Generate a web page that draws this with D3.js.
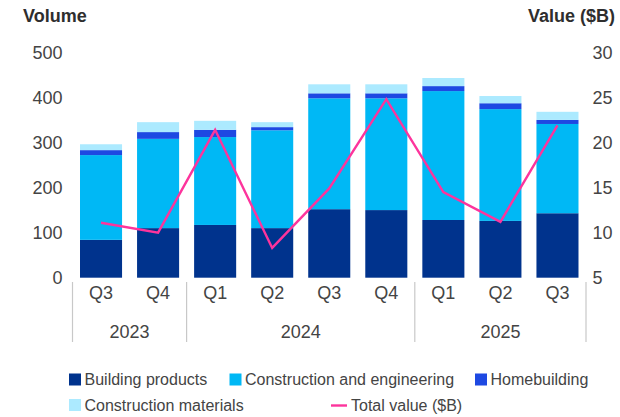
<!DOCTYPE html>
<html>
<head>
<meta charset="utf-8">
<script src="https://cdn.jsdelivr.net/npm/d3@7"></script>
<style>
  html, body { margin: 0; padding: 0; background: #fff; }
  svg { display: block; font-family: "Liberation Sans", Arial, sans-serif; }
</style>
</head>
<body>
<svg id="chart" width="620" height="417"></svg>
<script>
// Quarterly deal volume by sub-sector, with total deal value on the right axis
const quarters = ["Q3", "Q4", "Q1", "Q2", "Q3", "Q4", "Q1", "Q2", "Q3"];
const years = ["2023", "2023", "2024", "2024", "2024", "2024", "2025", "2025", "2025"];
const buildingProducts = [84, 110, 117, 110, 152, 150, 128, 126, 143];
const constructionEngineering = [188, 198, 195, 217, 246, 248, 286, 248, 198];
const homebuilding = [11, 15, 16, 7, 11, 11, 11, 13, 9];
const constructionMaterials = [13, 22, 20, 11, 20, 20, 18, 16, 18];
const totalValue = [11.1, 10.0, 21.4, 8.3, 14.9, 24.8, 14.5, 11.2, 21.9];
const volumeTicks = [0, 100, 200, 300, 400, 500];
const valueTicks = [5, 10, 15, 20, 25, 30];

const seriesNames = ["Building products", "Construction and engineering", "Homebuilding", "Construction materials"];
const seriesColors = ["#00338D", "#00B8F5", "#1E49E2", "#ACEAFF"];
const lineColor = "#FD349C";
const textColor = "#444444";
const axisFont = 18;

const rows = quarters.map((q, i) => ({
  key: i,
  "Building products": buildingProducts[i],
  "Construction and engineering": constructionEngineering[i],
  "Homebuilding": homebuilding[i],
  "Construction materials": constructionMaterials[i]
}));

const svg = d3.select("#chart");

const x = d3.scaleBand()
  .domain(d3.range(quarters.length))
  .range([72.5, 586])
  .paddingInner(0.263)
  .paddingOuter(0.1315);

const yTop = 52.3, yBottom = 277.7;
const yLeft = d3.scaleLinear().domain([0, 500]).range([yBottom, yTop]);
const yRight = d3.scaleLinear().domain([5, 30]).range([yBottom, yTop]);

// Stacked bars
const stack = d3.stack().keys(seriesNames);
const layers = stack(rows);

svg.append("g").selectAll("g")
  .data(layers)
  .join("g")
  .attr("fill", (d, i) => seriesColors[i])
  .selectAll("rect")
  .data(d => d)
  .join("rect")
  .attr("x", d => x(d.data.key))
  .attr("width", x.bandwidth())
  .attr("y", d => yLeft(d[1]))
  .attr("height", d => yLeft(d[0]) - yLeft(d[1]));

// Total value line
const line = d3.line()
  .x((d, i) => x(i) + x.bandwidth() / 2)
  .y(d => yRight(d));

svg.append("path")
  .datum(totalValue)
  .attr("d", line)
  .attr("fill", "none")
  .attr("stroke", lineColor)
  .attr("stroke-width", 2.4)
  .attr("stroke-linejoin", "miter");

// Left axis (volume)
const leftAxis = d3.axisLeft(yLeft).tickValues(volumeTicks).tickSize(0).tickPadding(0);
const gl = svg.append("g").attr("transform", "translate(62.5,0)").call(leftAxis);
gl.select(".domain").remove();
gl.selectAll("text")
  .attr("font-size", axisFont)
  .attr("fill", textColor)
  .attr("font-family", "Liberation Sans, Arial, sans-serif");

// Right axis (value)
const rightAxis = d3.axisRight(yRight).tickValues(valueTicks).tickSize(0).tickPadding(0);
const gr = svg.append("g").attr("transform", "translate(592.5,0)").call(rightAxis);
gr.select(".domain").remove();
gr.selectAll("text")
  .attr("font-size", axisFont)
  .attr("fill", textColor)
  .attr("font-family", "Liberation Sans, Arial, sans-serif");

// Axis titles
svg.append("text")
  .attr("x", 23).attr("y", 21.7)
  .attr("font-size", 18).attr("font-weight", "bold")
  .attr("fill", "#2e2e2e")
  .text("Volume");
svg.append("text")
  .attr("x", 615).attr("y", 21.7)
  .attr("text-anchor", "end")
  .attr("font-size", 18).attr("font-weight", "bold")
  .attr("fill", "#2e2e2e")
  .text("Value ($B)");

// Quarter labels
const bottomAxis = d3.axisBottom(x).tickFormat(i => quarters[i]).tickSize(0).tickPadding(0);
const gb = svg.append("g").attr("transform", "translate(0,286)").call(bottomAxis);
gb.select(".domain").remove();
gb.selectAll("text")
  .attr("font-size", axisFont)
  .attr("fill", textColor)
  .attr("font-family", "Liberation Sans, Arial, sans-serif");

// Year groups with separators
const yearGroups = d3.groups(d3.range(years.length), i => years[i]);
const step = x.step();
const groupEdges = [];
yearGroups.forEach(([yr, idx]) => {
  const x0 = x(idx[0]) - step * x.paddingInner() / 2;
  const x1 = x(idx[idx.length - 1]) + x.bandwidth() + step * x.paddingInner() / 2;
  groupEdges.push(x0, x1);
  svg.append("text")
    .attr("x", (x0 + x1) / 2)
    .attr("y", 338)
    .attr("text-anchor", "middle")
    .attr("font-size", axisFont)
    .attr("fill", textColor)
    .text(yr);
});
Array.from(new Set(groupEdges.map(v => Math.round(v * 10) / 10))).forEach(ex => {
  svg.append("line")
    .attr("x1", ex).attr("x2", ex)
    .attr("y1", 282).attr("y2", 342)
    .attr("stroke", "#c8c8c8")
    .attr("stroke-width", 1.2);
});

// Legend
const legendItems = [
  { name: seriesNames[0], color: seriesColors[0], type: "box", x: 69, y: 379.5 },
  { name: seriesNames[1], color: seriesColors[1], type: "box", x: 229.5, y: 379.5 },
  { name: seriesNames[2], color: seriesColors[2], type: "box", x: 475, y: 379.5 },
  { name: seriesNames[3], color: seriesColors[3], type: "box", x: 69, y: 405 },
  { name: "Total value ($B)", color: lineColor, type: "line", x: 331, y: 405 }
];
const lg = svg.append("g");
legendItems.forEach(item => {
  const g = lg.append("g").attr("transform", `translate(${item.x},${item.y})`);
  if (item.type === "box") {
    g.append("rect").attr("x", 0).attr("y", -6).attr("width", 12).attr("height", 12).attr("fill", item.color);
    g.append("text").attr("x", 15.5).attr("y", 5.7).attr("font-size", 16).attr("fill", textColor).text(item.name);
  } else {
    g.append("line").attr("x1", 0).attr("x2", 16).attr("y1", 0.5).attr("y2", 0.5)
      .attr("stroke", item.color).attr("stroke-width", 2.4);
    g.append("text").attr("x", 20).attr("y", 5.7).attr("font-size", 16).attr("fill", textColor).text(item.name);
  }
});
</script>
</body>
</html>
